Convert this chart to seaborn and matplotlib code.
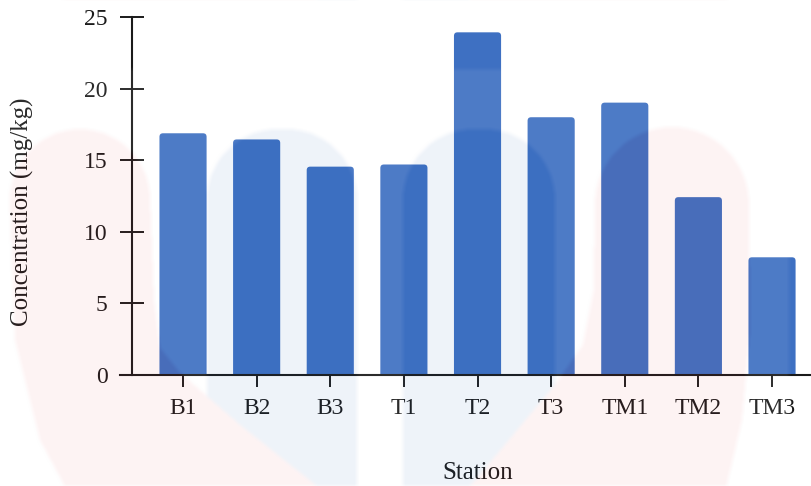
import numpy as np
import pandas as pd
import matplotlib
matplotlib.use("Agg")
import matplotlib.pyplot as plt
import seaborn as sns
from matplotlib.patches import FancyBboxPatch
from matplotlib.path import Path

# ---- data -------------------------------------------------------------
stations = ["B1", "B2", "B3", "T1", "T2", "T3", "TM1", "TM2", "TM3"]
concentration = [16.88, 16.45, 14.55, 14.7, 23.93, 18.0, 19.02, 12.42, 8.22]
y_ticks = [0, 5, 10, 15, 20, 25]

# ---- style ------------------------------------------------------------
sns.set_style("white")
plt.rcParams["font.family"] = ["Liberation Serif", "DejaVu Serif"]
ink = "#1a1a1a"
bar_color = "#3e70c2"

W, H = 812, 486
fig = plt.figure(figsize=(W / 100, H / 100), dpi=100)
fig.patch.set_facecolor("white")

# axes box in pixels: x-axis line from 120 to 812, y from 375 (0) up to 17 (25)
ax = fig.add_axes([120 / W, (H - 375) / H, (W - 120) / W, 358 / H])

df = pd.DataFrame({"Station": stations, "Concentration": concentration})
sns.barplot(data=df, x="Station", y="Concentration", color=bar_color,
            saturation=1, width=0.64, ax=ax, errorbar=None)

ax.set_xlim(-0.856, 8.543)
ax.set_ylim(0, 25)

# bars with slightly rounded top corners
px_x = 692 / (8.543 + 0.856)   # pixels per category unit
px_y = 358 / 25                 # pixels per mg/kg
rx = 3.5 / px_x
ry = 3.5 / px_y
for p in list(ax.patches):
    x0, w, h = p.get_x(), p.get_width(), p.get_height()
    fc = p.get_facecolor()
    p.remove()
    ax.add_patch(FancyBboxPatch((x0, -0.6), w, h + 0.6,
                                boxstyle=f"round,pad=0,rounding_size={rx}",
                                mutation_aspect=ry / rx, fc=fc, ec="none",
                                clip_on=True, zorder=2))

# axes lines
for s in ("top", "right"):
    ax.spines[s].set_visible(False)
ax.spines["left"].set_position(("data", -0.6927))
for s in ("left", "bottom"):
    ax.spines[s].set_color(ink)
    ax.spines[s].set_linewidth(1.5)
    ax.spines[s].set_zorder(3)

ax.set_yticks(y_ticks)
ax.tick_params(axis="both", direction="inout", length=17.3, width=1.4,
               color=ink, labelcolor=ink, labelsize=17,
               bottom=True, left=True, top=False, right=False)
ax.tick_params(axis="y", pad=9.0)
ax.tick_params(axis="x", pad=8.0)

ax.set_ylabel("Concentration (mg/kg)", fontsize=18, color=ink)
ax.yaxis.set_label_coords((22 - 120) / 692, (375 - 212) / 358)
ax.yaxis.label.set_va("center")
ax.yaxis.label.set_rotation_mode("default")

ax.set_xlabel("Station", fontsize=18, color=ink)
ax.xaxis.set_label_coords((478 - 120) / 692, (375 - 473) / 358)
ax.xaxis.label.set_va("center")


# ---- faint logo watermark laid over the chart ----------------------------
def arc(cx, cy, r, a0, a1, n=40):
    a = np.radians(np.linspace(a0, a1, n))
    return list(zip(cx + r * np.cos(a), cy - r * np.sin(a)))


def rounded_top(x0, x1, top, bottom, r):
    pts = [(x0, bottom), (x0, top + r)]
    pts += arc(x0 + r, top + r, r, 180, 90)
    pts += arc(x1 - r, top + r, r, 90, 0)
    pts += [(x1, bottom)]
    return pts


left_pink = (arc(80, 200, 70, 180, 0)
             + [(154, 300), (160, 348), (180, 373), (240, 425), (313, 483),
                (335, 505), (75, 505), (40, 440), (15, 340)])
right_pink = (arc(672, 205, 77, 180, 0)
              + [(750, 330), (742, 420), (722, 505), (450, 505), (473, 483),
                 (555, 385), (583, 345), (594, 290)])
left_blue = rounded_top(207, 357, 130, 505, 70)
right_blue = rounded_top(403, 555, 130, 505, 70)
backdrop = [(0, 70), (789, 70), (789, 505), (0, 505)]

yy, xx = np.mgrid[0:H, 0:W]
pts = np.column_stack([xx.ravel() + 0.5, yy.ravel() + 0.5])

rgb = np.ones((H, W, 3))
alpha = np.zeros((H, W))
layers = [
    (backdrop, (1.0, 1.0, 1.0), 0.08),
    (left_blue, (45 / 255, 105 / 255, 185 / 255), 0.08),
    (right_blue, (45 / 255, 105 / 255, 185 / 255), 0.08),
    (left_pink, (235 / 255, 70 / 255, 75 / 255), 0.065),
    (right_pink, (235 / 255, 70 / 255, 75 / 255), 0.065),
]
for poly, col, a in layers:
    m = Path(poly).contains_points(pts).reshape(H, W)
    rgb[m] = col
    alpha[m] = a

# soften the edges a little
def box_blur(a, k=2):
    out = np.zeros_like(a)
    cnt = 0
    for dy in range(-k, k + 1):
        for dx in range(-k, k + 1):
            out += np.roll(np.roll(a, dy, axis=0), dx, axis=1)
            cnt += 1
    return out / cnt

prem = rgb * alpha[..., None]
prem = np.stack([box_blur(prem[..., i]) for i in range(3)], axis=-1)
alpha_b = box_blur(alpha)
rgb_b = np.where(alpha_b[..., None] > 0, prem / np.maximum(alpha_b, 1e-9)[..., None], 1.0)
img = np.dstack([np.clip(rgb_b, 0, 1), alpha_b])

ov = fig.add_axes([0, 0, 1, 1], zorder=5)
ov.imshow(img, extent=(0, W, H, 0), interpolation="bilinear", aspect="auto")
ov.set_xlim(0, W)
ov.set_ylim(H, 0)
ov.axis("off")

fig.savefig("out.png", dpi=100, facecolor="white")
